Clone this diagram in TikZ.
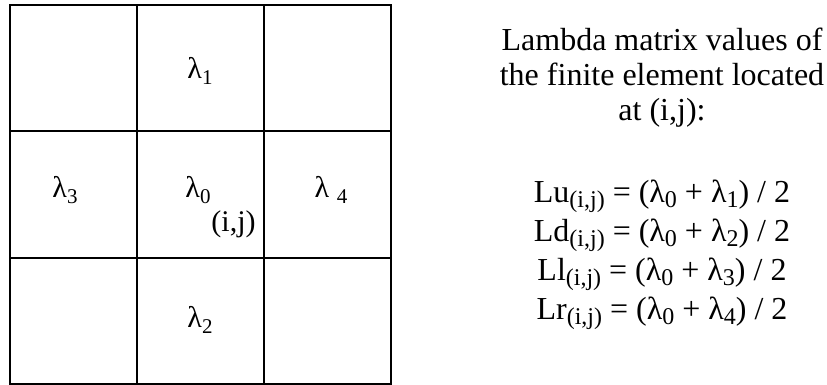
\documentclass[tikz,border=0pt]{standalone}
\usepackage{fontspec}
\setmainfont{Liberation Serif}
\usepackage{tikz}
\usetikzlibrary{positioning}
\newcommand{\gsub}[1]{\raisebox{-3pt}{\fontsize{10.5}{10.5}\selectfont #1}}
\newcommand{\fsub}[1]{\raisebox{-2.5pt}{\fontsize{12}{12}\selectfont #1}}

\begin{document}
\begin{tikzpicture}[x=0.5pt, y=-0.5pt,%
  grid/.style={line width=1pt, draw=black},%
  lam/.style={font=\fontsize{15}{18}\selectfont, inner sep=0pt},%
  info/.style={align=center, font=\fontsize{16}{17.5}\selectfont, inner sep=0pt},%
  formula/.style={align=center, font=\fontsize{16}{19.5}\selectfont, inner sep=0pt}%
]
  \useasboundingbox (0,0) rectangle (827,385);
  % Malla 3x3
  \draw[grid] (10,5) rectangle (391,384);
  \foreach \x in {137,264} \draw[grid] (\x,5) -- (\x,384);
  \foreach \y in {131,258} \draw[grid] (10,\y) -- (391,\y);
  % Valores lambda
  \node[lam] (lamUno) at (200,71) {λ\gsub{1}};
  \node[lam] (lamTres) at (65,190) {λ\gsub{3}};
  \node[lam] (lamCero) at (198,190) {λ\gsub{0}};
  \node[lam] (lamCuatro) at (331,190) {λ~\gsub{4}};
  \node[lam] (lamDos) at (200,320) {λ\gsub{2}};
  \node[lam, anchor=south east] (celda) at (256,238) {(i,j)};
  % Texto derecho
  \node[info, anchor=north] (titulo) at (662,28) {Lambda matrix values of\\the finite element located\\at (i,j):};
  \node[formula, anchor=north] (formulas) at (662,180) {%
    Lu\fsub{(i,j)} = (λ\fsub{0} + λ\fsub{1}) / 2\\
    Ld\fsub{(i,j)} = (λ\fsub{0} + λ\fsub{2}) / 2\\
    Ll\fsub{(i,j)} = (λ\fsub{0} + λ\fsub{3}) / 2\\
    Lr\fsub{(i,j)} = (λ\fsub{0} + λ\fsub{4}) / 2};
\end{tikzpicture}
\end{document}
